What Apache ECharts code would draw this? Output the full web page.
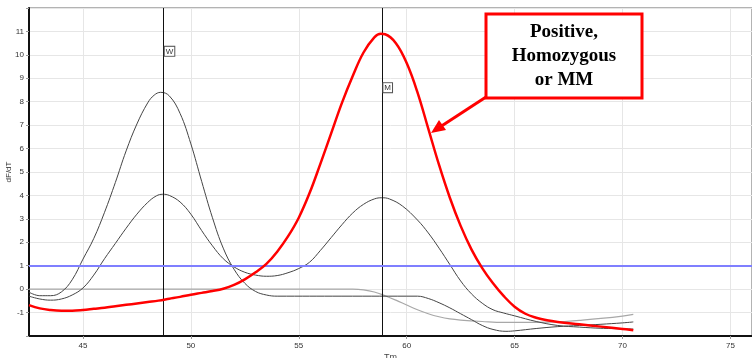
<!DOCTYPE html>
<html>
<head>
<meta charset="utf-8">
<script src="https://cdn.jsdelivr.net/npm/echarts@6/dist/echarts.min.js"></script>
<style>
html,body{margin:0;padding:0;background:#fff;}
#main{width:752px;height:358px;}
</style>
</head>
<body>
<div id="main"></div>
<script>
// melt curves, [temperature, dF/dT]
var mmCurve = [[42.5,-0.68],[43,-0.82],[43.5,-0.89],[44,-0.92],[44.5,-0.92],[45,-0.89],[45.5,-0.84],[46,-0.79],[46.5,-0.73],[47,-0.67],[47.5,-0.61],[48,-0.55],[48.5,-0.49],[49,-0.41],[49.5,-0.33],[50,-0.24],[50.5,-0.16],[51,-0.08],[51.5,0.02],[52,0.18],[52.5,0.42],[53,0.72],[53.5,1.08],[54,1.6],[54.5,2.25],[55,3.05],[55.5,4.1],[56,5.35],[56.5,6.65],[57,7.95],[57.5,9.1],[58,10.1],[58.5,10.75],[58.8,10.9],[59,10.88],[59.5,10.5],[60,9.65],[60.5,8.4],[61,6.85],[61.5,5.3],[62,3.9],[62.5,2.7],[63,1.7],[63.5,0.9],[64,0.25],[64.5,-0.3],[65,-0.75],[65.5,-1.05],[66,-1.22],[66.5,-1.33],[67,-1.4],[68,-1.5],[69,-1.6],[70,-1.7],[70.5,-1.75]];
var wtCurve = [[42.5,-0.13],[43,-0.28],[43.5,-0.28],[44,-0.12],[44.5,0.4],[45,1.28],[45.5,2.16],[46,3.28],[46.5,4.55],[47,5.9],[47.5,7.05],[48,7.95],[48.3,8.28],[48.6,8.4],[49,8.25],[49.5,7.5],[50,6.2],[50.5,4.6],[51,3.05],[51.5,1.75],[52,0.85],[52.5,0.25],[53,-0.1],[53.5,-0.25],[54,-0.3],[57,-0.3],[60.5,-0.3],[61,-0.4],[61.5,-0.58],[62,-0.8],[62.5,-1.05],[63,-1.3],[63.5,-1.55],[64,-1.72],[64.6,-1.8],[65,-1.78],[66,-1.68],[67,-1.6],[68,-1.55],[69,-1.5],[70,-1.44],[70.5,-1.4]];
var hetCurve = [[42.5,-0.3],[43,-0.42],[43.5,-0.47],[44,-0.42],[44.5,-0.25],[45,0.05],[45.5,0.6],[46,1.3],[46.5,1.95],[47,2.6],[47.5,3.2],[48,3.7],[48.4,3.98],[48.7,4.05],[49,4],[49.5,3.72],[50,3.2],[50.5,2.5],[51,1.85],[51.5,1.3],[52,0.95],[52.5,0.72],[53,0.6],[53.5,0.55],[54,0.58],[54.5,0.7],[55,0.88],[55.5,1.15],[56,1.65],[56.5,2.2],[57,2.75],[57.5,3.25],[58,3.62],[58.5,3.85],[58.85,3.9],[59.2,3.85],[59.8,3.55],[60.5,2.95],[61,2.4],[61.5,1.75],[62,1.05],[62.5,0.35],[63,-0.2],[63.5,-0.6],[64,-0.88],[64.5,-1.02],[65,-1.14],[66,-1.38],[67,-1.55],[68,-1.62],[69,-1.67],[70.5,-1.7]];
var ntcCurve = [[42.5,0],[50,0],[57.5,0],[58,-0.03],[58.5,-0.12],[59,-0.28],[59.5,-0.47],[60,-0.68],[60.5,-0.88],[61,-1.05],[61.5,-1.18],[62,-1.27],[62.5,-1.32],[63.5,-1.38],[64.5,-1.42],[66,-1.42],[67,-1.4],[68,-1.33],[69,-1.25],[70,-1.15],[70.5,-1.08]];
var markerTemps = [48.72, 58.85];
var markerNames = ['W', 'M'];
var markerLabelY = [10.15, 8.6];
var threshold = 1;
var calloutLines = ['Positive,', 'Homozygous', 'or MM'];

var myChart = echarts.init(document.getElementById('main'));

var markerLines = [];
var markerBoxes = [];
for (var i = 0; i < markerTemps.length; i++) {
    markerLines.push({xAxis: markerTemps[i]});
    markerBoxes.push({coord: [markerTemps[i], markerLabelY[i]], value: markerNames[i]});
}

var option = {
    animation: false,
    grid: {
        left: 29, right: 0, top: 8, bottom: 22,
        outerBoundsMode: 'none',
        containLabel: false,
        show: true, borderColor: '#666', borderWidth: 1
    },
    xAxis: {
        type: 'value',
        min: 42.5, max: 76,
        splitNumber: 7,
        name: 'Tm',
        nameLocation: 'middle',
        nameGap: 17,
        nameMoveOverlap: false,
        nameTextStyle: {fontSize: 9, color: '#444'},
        axisLine: {onZero: false, lineStyle: {color: '#111', width: 2}},
        axisTick: {show: true, length: 3, lineStyle: {color: '#999'}},
        axisLabel: {fontSize: 8, color: '#333', margin: 6, showMinLabel: false, showMaxLabel: false},
        splitLine: {lineStyle: {color: '#e6e6e6'}}
    },
    yAxis: {
        type: 'value',
        min: -2, max: 12, interval: 1,
        name: 'dF/dT',
        nameLocation: 'middle',
        nameGap: 16,
        nameMoveOverlap: false,
        nameRotate: 90,
        nameTextStyle: {fontSize: 8, color: '#333'},
        axisLine: {show: true, onZero: false, lineStyle: {color: '#111', width: 2}},
        axisTick: {show: true, length: 3, lineStyle: {color: '#999'}},
        axisLabel: {
            fontSize: 8, color: '#333', margin: 5,
            formatter: function (v) { return (v === -2 || v === 12) ? '' : v; }
        },
        splitLine: {lineStyle: {color: '#e6e6e6'}}
    },
    series: [
        {
            name: 'NTC', type: 'line', data: ntcCurve, smooth: 0.4, symbol: 'none',
            lineStyle: {color: '#a8a8a8', width: 1.2}
        },
        {
            name: 'WT', type: 'line', data: wtCurve, smooth: 0.4, symbol: 'none',
            lineStyle: {color: '#444', width: 1}
        },
        {
            name: 'Het', type: 'line', data: hetCurve, smooth: 0.4, symbol: 'none',
            lineStyle: {color: '#444', width: 1},
            markLine: {
                silent: true, symbol: 'none', label: {show: false},
                lineStyle: {color: '#111', width: 1, type: 'solid'},
                data: markerLines
            },
            markPoint: {
                symbol: 'rect', symbolSize: 1,
                itemStyle: {color: 'rgba(0,0,0,0)'},
                label: {
                    show: true, position: 'right', distance: 1,
                    formatter: '{c}', fontSize: 8, color: '#333',
                    backgroundColor: '#fff', borderColor: '#555', borderWidth: 1,
                    padding: [1, 1, 0, 1]
                },
                data: markerBoxes
            }
        },
        {
            name: 'MM', type: 'line', data: mmCurve, smooth: 0.4, symbol: 'none', z: 5,
            lineStyle: {color: '#ff0000', width: 2.5}
        },
        {
            name: 'threshold', type: 'line', data: [], z: 1,
            markLine: {
                silent: true, symbol: 'none', label: {show: false},
                lineStyle: {color: '#7f7fff', width: 2, type: 'solid'},
                data: [{yAxis: threshold}]
            }
        }
    ],
    graphic: [
        {
            type: 'rect', z: 100,
            shape: {x: 486, y: 14, width: 156, height: 84},
            style: {fill: '#fff', stroke: '#ff0000', lineWidth: 3}
        },
        {
            type: 'text', z: 101, x: 564, y: 20,
            style: {
                text: calloutLines.join('\n'), align: 'center', verticalAlign: 'top',
                font: 'bold 19px "Liberation Serif", serif', lineHeight: 24, fill: '#000'
            }
        },
        {
            type: 'line', z: 100,
            shape: {x1: 486, y1: 97, x2: 440, y2: 127},
            style: {stroke: '#ff0000', lineWidth: 3}
        },
        {
            type: 'polygon', z: 100,
            shape: {points: [[431, 133], [439, 120], [446, 130]]},
            style: {fill: '#ff0000'}
        }
    ]
};
myChart.setOption(option);
</script>
</body>
</html>
